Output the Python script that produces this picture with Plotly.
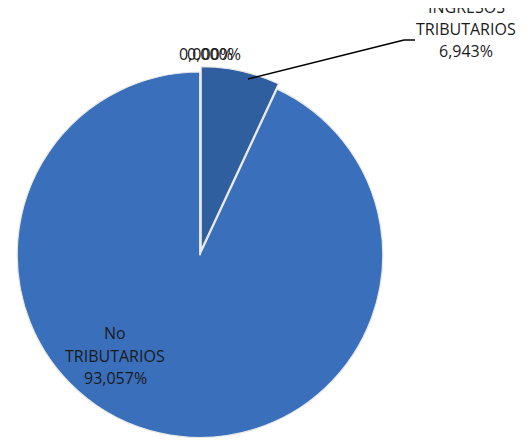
import plotly.graph_objects as go

labels = ["INGRESOS TRIBUTARIOS", "No TRIBUTARIOS", "Cat 3", "Cat 4"]
values = [6.943, 93.057, 0.0, 0.0]
colors = ["#2f5f9f", "#3a6fbc", "#3a6fbc", "#3a6fbc"]
pulls = [0.03, 0, 0, 0]

W, H = 527, 440

def fmt(v):
    return f"{v:,.3f}".replace(".", ",") + "%"

fig = go.Figure(go.Pie(
    labels=labels, values=values, sort=False, direction="clockwise", rotation=0,
    pull=pulls, textinfo="none", hoverinfo="label+percent",
    marker=dict(colors=colors, line=dict(color="#e8e8e8", width=1.2)),
    domain=dict(x=[3.5 / W, 380.5 / W], y=[5 / H, 1 - 58.5 / H]),
    showlegend=False,
))

font = dict(family="Open Sans", size=16, color="#1a1a1a")
ann = []
def add_lines(lines, cx, ys):
    for t, y in zip(lines, ys):
        ann.append(dict(text=t, x=cx / W, y=1 - y / H, xref="paper", yref="paper",
                        showarrow=False, xanchor="center", yanchor="middle", font=font))

add_lines(["INGRESOS", "TRIBUTARIOS", fmt(values[0])], 458, [-0.5, 21, 43])
add_lines(["No", "TRIBUTARIOS", fmt(values[1])], 107, [325, 348, 370])
add_lines([fmt(values[2])], 198, [46])
add_lines([fmt(values[3])], 206, [46])

fig.update_layout(
    width=W, height=H, margin=dict(l=0, r=0, t=0, b=0),
    paper_bgcolor="white", plot_bgcolor="white",
    annotations=ann,
    shapes=[
        dict(type="line", xref="paper", yref="paper", x0=240 / W, y0=1 - 71 / H,
             x1=396 / W, y1=1 - 32 / H, line=dict(color="black", width=1.5)),
        dict(type="line", xref="paper", yref="paper", x0=396 / W, y0=1 - 32 / H,
             x1=407 / W, y1=1 - 32 / H, line=dict(color="black", width=1.5)),
    ],
)
fig.write_html("out.html")
